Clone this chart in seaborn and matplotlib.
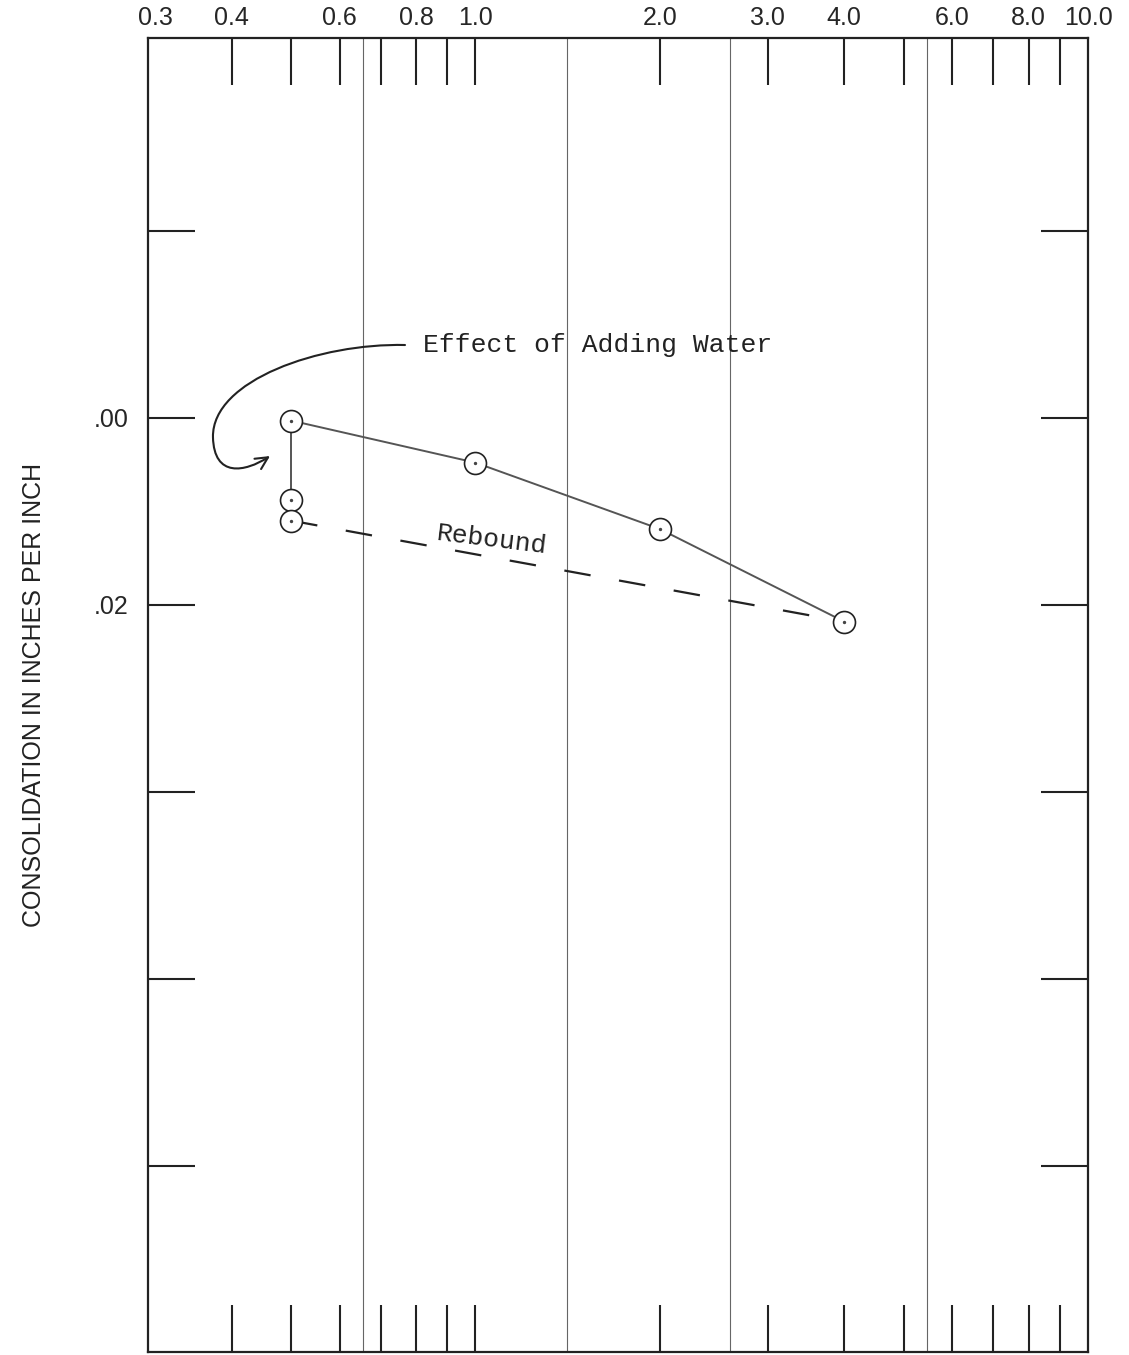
import numpy as np
import seaborn as sns
import matplotlib.pyplot as plt
from matplotlib.path import Path
from matplotlib.patches import FancyArrowPatch

# Data
load = [0.5, 1.0, 2.0, 4.0]
consolidation = [0.0003, 0.0048, 0.0119, 0.0218]

water_load = [0.5, 0.5]
water_consolidation = [0.0088, 0.0110]

rebound_load = [0.5, 4.0]
rebound_consolidation = [0.0110, 0.0218]

x_ticks = [0.3, 0.4, 0.5, 0.6, 0.7, 0.8, 0.9, 1.0, 2.0, 3.0, 4.0, 5.0, 6.0, 7.0, 8.0, 9.0, 10.0]
x_labels = ["0.3", "0.4", "", "0.6", "", "0.8", "", "1.0", "2.0", "3.0", "4.0", "", "6.0", "", "8.0", "", "10.0"]
y_ticks = [-0.02, 0.0, 0.02, 0.04, 0.06, 0.08]
y_labels = ["", ".00", ".02", "", "", ""]
grid_x = [0.655, 1.41, 2.6, 5.45]

sns.set_theme(style="white")
plt.rcParams["font.family"] = ["Liberation Sans", "DejaVu Sans"]

fig = plt.figure(figsize=(11.29, 13.55), dpi=100)
ax = fig.add_axes([0.1311, 0.0022, 0.8326, 0.9697])

ax.set_xscale("log")
ax.set_xlim(0.292, 10.0)
ax.set_ylim(0.0999, -0.0406)

for gx in grid_x:
    ax.axvline(gx, color="#666666", lw=0.8, zorder=1)

# consolidation curve and wetting drop
sns.lineplot(x=load, y=consolidation, sort=False, estimator=None, ax=ax,
             color="#555555", lw=1.4, zorder=2)
sns.lineplot(x=[load[0], water_load[0]], y=[consolidation[0], water_consolidation[0]],
             sort=False, estimator=None, ax=ax, color="#555555", lw=1.4, zorder=2)
sns.lineplot(x=rebound_load, y=rebound_consolidation, sort=False, estimator=None, ax=ax,
             color="#222222", lw=1.6, zorder=2)
ax.lines[-1].set_dashes((12, 13))

all_x = load + water_load
all_y = consolidation + water_consolidation
sns.scatterplot(x=all_x, y=all_y, ax=ax, s=250, facecolor="white", edgecolor="#222222",
                linewidth=1.2, zorder=3)
ax.scatter(all_x, all_y, s=2, color="#444444", zorder=4)

ax.text(0.82, -0.0078, "Effect of Adding Water", family=["Liberation Mono", "DejaVu Sans Mono"],
        fontsize=19, ha="left", va="center", color="#222222")
ax.text(1.065, 0.013, "Rebound", family=["Liberation Mono", "DejaVu Sans Mono"],
        fontsize=19, ha="center", va="center", rotation=-7, color="#222222")

# hand drawn looping arrow (axes fraction)
verts = [(0.2734, 0.7664), (0.1830, 0.7679), (0.0681, 0.7397), (0.0691, 0.6963),
         (0.0702, 0.6651), (0.1032, 0.6697), (0.1298, 0.6819)]
codes = [Path.MOVETO] + [Path.CURVE4] * 6
arrow = FancyArrowPatch(path=Path(verts, codes), arrowstyle="->", mutation_scale=22,
                        lw=1.5, color="#222222", transform=ax.transAxes)
ax.add_patch(arrow)

ax.set_xticks(x_ticks)
ax.set_xticklabels(x_labels)
ax.xaxis.set_minor_locator(plt.NullLocator())
ax.set_yticks(y_ticks)
ax.set_yticklabels(y_labels)

ax.tick_params(axis="x", which="major", direction="in", length=34, width=1.5,
               top=True, bottom=True, labeltop=True, labelbottom=False,
               labelsize=18, pad=6, color="#222222")
ax.tick_params(axis="y", which="major", direction="in", length=34, width=1.5,
               left=True, right=True, labelleft=True, labelright=False,
               labelsize=18, pad=14, color="#222222")

# end ticks sit on the spines, hide their marks
for t in (ax.xaxis.get_major_ticks()[0], ax.xaxis.get_major_ticks()[-1]):
    t.tick1line.set_visible(False)
    t.tick2line.set_visible(False)

for sp in ax.spines.values():
    sp.set_visible(True)
    sp.set_linewidth(1.6)
    sp.set_color("#222222")

ax.set_xlabel("")
ax.set_ylabel("CONSOLIDATION IN INCHES PER INCH", fontsize=18, labelpad=34, color="#222222")

fig.savefig("out.png", dpi=100)
plt.close(fig)
